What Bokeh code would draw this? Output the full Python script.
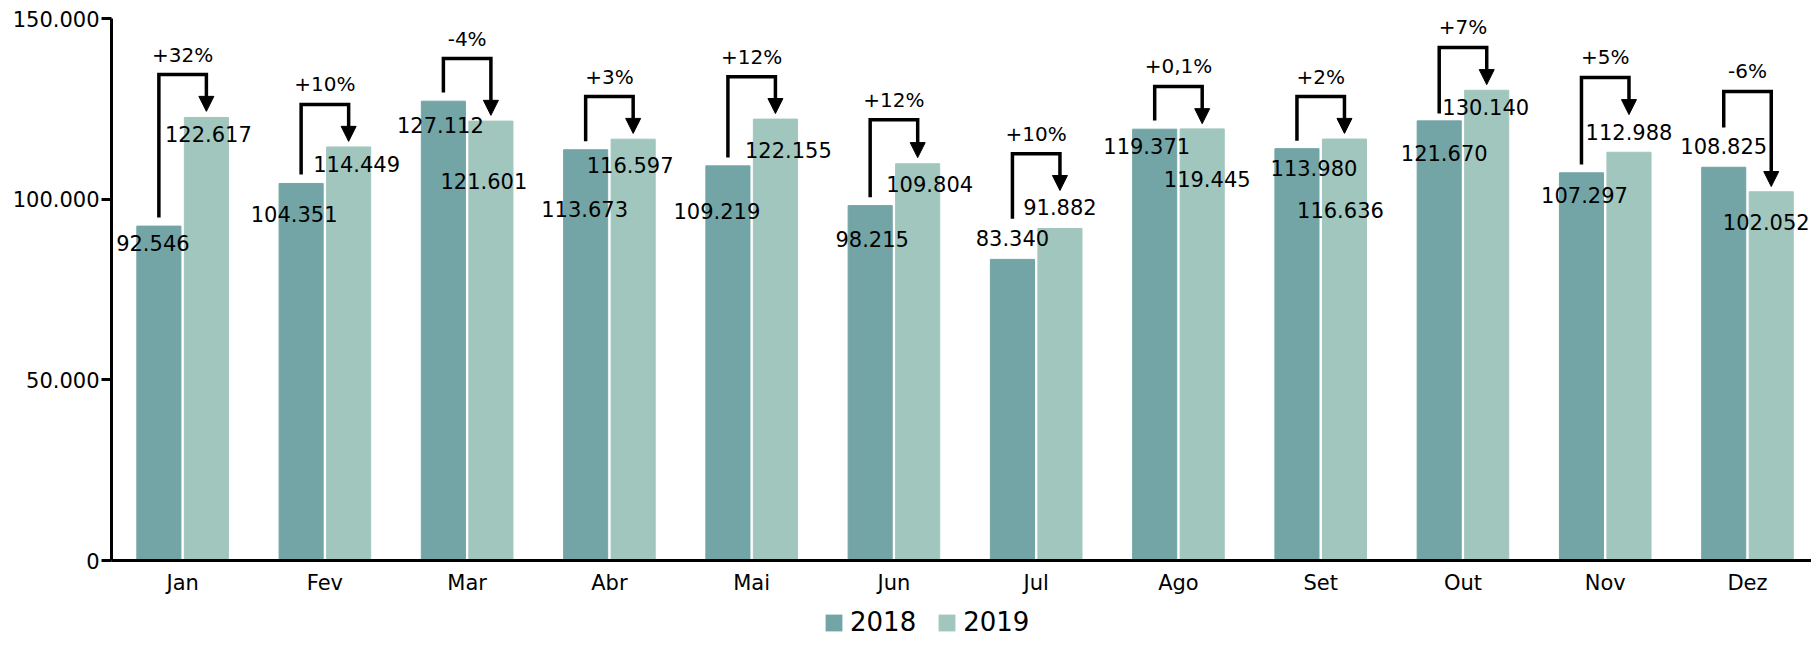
from bokeh.plotting import figure
from bokeh.layouts import column
from bokeh.models import (Range1d, FixedTicker, Legend, LegendItem, ColumnDataSource,
                          Arrow, NormalHead)
from bokeh.core.properties import value
from bokeh.embed import file_html
from bokeh.resources import INLINE

# ---------------- data ----------------
MONTHS = ["Jan", "Fev", "Mar", "Abr", "Mai", "Jun", "Jul", "Ago", "Set", "Out", "Nov", "Dez"]
V2018 = [92546, 104351, 127112, 113673, 109219, 98215, 83340, 119371, 113980, 121670, 107297, 108825]
V2019 = [122617, 114449, 121601, 116597, 122155, 109804, 91882, 119445, 116636, 130140, 112988, 102052]
PCT = ["+32%", "+10%", "-4%", "+3%", "+12%", "+12%", "+10%", "+0,1%", "+2%", "+7%", "+5%", "-6%"]
SERIES = ["2018", "2019"]
Y_TICKS = [0, 50000, 100000, 150000]
Y_TICK_LABELS = ["0", "50.000", "100.000", "150.000"]

# ---------------- annotation layout (not data) ----------------
BRACKET_TOP = [134500, 126200, 138900, 128400, 133900, 122000, 112600, 131200, 128400, 142000, 133700, 129800]
BRACKET_START = [94900, 106800, 129500, 116000, 111500, 100500, 94600, 121800, 116200, 123700, 109600, 119800]
BRACKET_END = [124300, 116000, 123200, 118200, 123700, 111500, 102400, 120900, 118200, 131700, 123400, 103500]
# label offsets in screen pixels (dx, dy; dy positive = down)
L18_DX = [-6, -7, -3, -1, -11, 2, 0, -8, 17, 5, 3, 0]
L18_DY = [17, 31, 24, 59, 45, 33, -21, 17, 19, 32, 22, -21]
L19_DX = [2, 8, -7, -3, 13, 12, 0, 5, -4, -1, 0, -5]
L19_DY = [17, 17, 60, 26, 31, 20, -21, 50, 71, 17, -20, 30]

C2018 = "#73a5a6"
C2019 = "#a1c6be"
FONT = value("DejaVu Sans")
DODGE = 0.167
BAR_W = 0.31

W = 1811
H1 = 600          # main chart
H2 = 37           # legend strip
BL, BT = 111, 18
FRAME_BOTTOM = 560
BB = H1 - FRAME_BOTTOM
FRAME_H = FRAME_BOTTOM - BT
YMAX = 150000
PX = YMAX / FRAME_H  # data units per pixel

n = len(MONTHS)
xc = [i + 0.5 for i in range(n)]
x18 = [x - DODGE for x in xc]
x19 = [x + DODGE for x in xc]

def fmt(v):
    return f"{v:,}".replace(",", ".")

p = figure(width=W, height=H1, x_range=Range1d(0, n - 0.05), y_range=Range1d(0, YMAX),
           output_backend="svg", toolbar_location=None,
           min_border_left=BL, min_border_right=0, min_border_top=BT, min_border_bottom=BB)
p.outline_line_color = None
p.xgrid.visible = False
p.ygrid.visible = False
p.background_fill_color = "white"
p.border_fill_color = "white"

r18 = p.vbar(x=x18, top=V2018, width=BAR_W, color=C2018)
r19 = p.vbar(x=x19, top=V2019, width=BAR_W, color=C2019)

# value labels
p.text(x=x18, y=V2018, text=[fmt(v) for v in V2018], x_offset=L18_DX, y_offset=L18_DY,
       text_font=FONT, text_font_size="21px", text_align="center", text_baseline="middle",
       text_color="black")
p.text(x=x19, y=V2019, text=[fmt(v) for v in V2019], x_offset=L19_DX, y_offset=L19_DY,
       text_font=FONT, text_font_size="21px", text_align="center", text_baseline="middle",
       text_color="black")

# brackets
xs = [[a, a, b, b] for a, b in zip(x18, x19)]
ys = [[s, t, t, e + 10 * PX] for s, t, e in zip(BRACKET_START, BRACKET_TOP, BRACKET_END)]
p.multi_line(xs=xs, ys=ys, line_color="black", line_width=3.5, line_join="miter")
asrc = ColumnDataSource(dict(x=x19, y0=list(BRACKET_TOP), y1=BRACKET_END))
p.add_layout(Arrow(end=NormalHead(size=15, fill_color="black", line_color="black", line_width=1),
                   x_start="x", y_start="y0", x_end="x", y_end="y1", source=asrc,
                   line_width=0, line_alpha=0))
p.text(x=xc, y=BRACKET_TOP, text=PCT, y_offset=-20, text_font=FONT, text_font_size="20px",
       text_align="center", text_baseline="middle", text_color="black")

# axes
ya = p.yaxis[0]
ya.ticker = FixedTicker(ticks=Y_TICKS)
ya.major_label_overrides = {t: l for t, l in zip(Y_TICKS, Y_TICK_LABELS)}
ya.axis_line_width = 3
ya.axis_line_color = "black"
ya.major_tick_line_width = 3
ya.major_tick_line_color = "black"
ya.major_tick_out = 10
ya.major_tick_in = 0
ya.minor_tick_line_color = None
ya.major_label_standoff = 2
ya.major_label_text_font = "DejaVu Sans"
ya.major_label_text_font_size = "21px"
ya.major_label_text_color = "black"

xa = p.xaxis[0]
xa.ticker = FixedTicker(ticks=xc)
xa.major_label_overrides = {x: m for x, m in zip(xc, MONTHS)}
xa.axis_line_width = 3
xa.axis_line_color = "black"
xa.major_tick_line_color = None
xa.major_tick_out = 0
xa.major_tick_in = 0
xa.minor_tick_line_color = None
xa.major_label_standoff = 10
xa.major_label_text_font = "DejaVu Sans"
xa.major_label_text_font_size = "21px"
xa.major_label_text_color = "black"

# legend strip (zero-height proxy bars supply the legend swatches)
q = figure(width=W, height=H2, x_range=Range1d(0, 1), y_range=Range1d(0, 1),
           output_backend="svg", toolbar_location=None,
           min_border_left=0, min_border_right=0, min_border_top=0, min_border_bottom=0)
q.axis.visible = False
q.grid.visible = False
q.outline_line_color = None
q.border_fill_color = "white"
g18 = q.vbar(x=[0.5], top=[0], bottom=[0], width=0.01, fill_color=C2018, line_color=None)
g19 = q.vbar(x=[0.5], top=[0], bottom=[0], width=0.01, fill_color=C2019, line_color=None)
legend = Legend(items=[LegendItem(label=SERIES[0], renderers=[g18]),
                       LegendItem(label=SERIES[1], renderers=[g19])],
                orientation="horizontal", location=(712, 0), padding=0, margin=0,
                spacing=20, label_standoff=6, glyph_width=21, glyph_height=21,
                border_line_alpha=0, background_fill_alpha=0,
                label_text_font="DejaVu Sans", label_text_font_size="26px",
                label_text_color="black")
q.add_layout(legend)

layout = column(p, q, spacing=0)
open("out.html", "w").write(file_html(layout, INLINE))
